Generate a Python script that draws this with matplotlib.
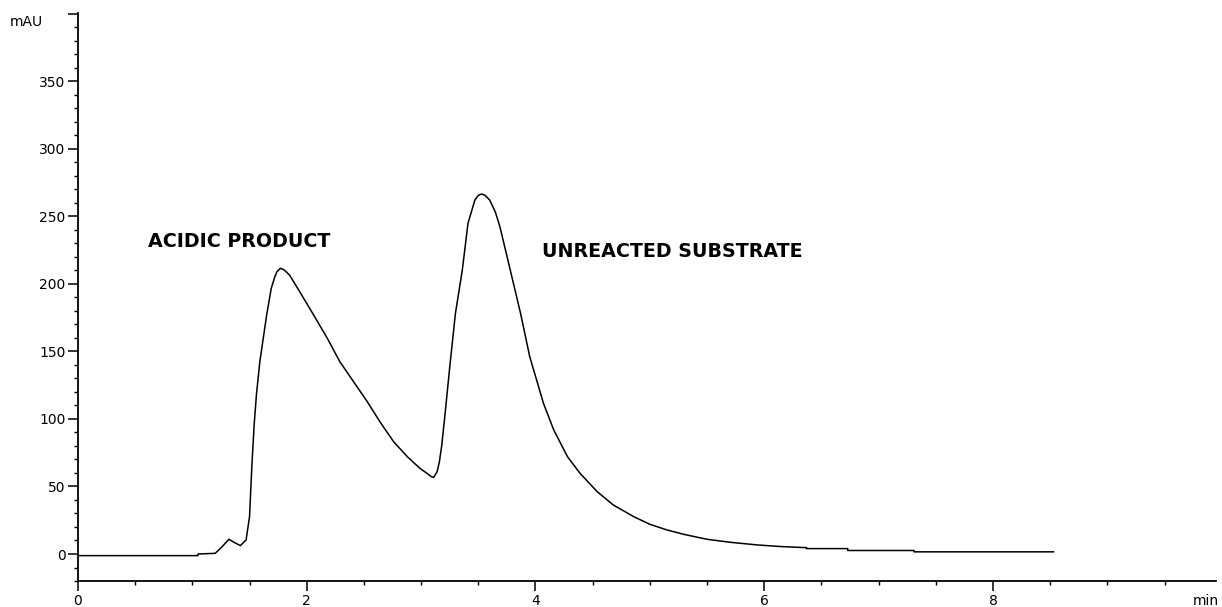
import matplotlib
matplotlib.use('Agg')
import matplotlib.pyplot as plt
from matplotlib.ticker import MultipleLocator

# retention time (min) and absorbance (mAU)
time_min = [0.00, 1.05, 1.05, 1.20, 1.26, 1.32, 1.37, 1.42, 1.47, 1.50,
            1.52, 1.54, 1.56, 1.59, 1.62, 1.65, 1.69, 1.72, 1.74,
            1.77, 1.80, 1.85, 1.94, 2.06, 2.18, 2.29, 2.41, 2.53, 2.64,
            2.76, 2.88, 2.99, 3.05, 3.09, 3.11, 3.14, 3.16, 3.18, 3.21,
            3.25, 3.30, 3.36, 3.41, 3.47, 3.50, 3.53, 3.56, 3.60, 3.65,
            3.69, 3.78, 3.87, 3.95, 4.01, 4.07, 4.16, 4.28, 4.39, 4.54,
            4.68, 4.86, 5.00, 5.15, 5.30, 5.50, 5.70, 5.94, 6.15, 6.37,
            6.37, 6.73, 6.73, 7.31, 7.31, 8.53]
mau = [-1.2, -1.2, 0.0, 0.5, 5.4, 10.9, 8.4, 6.2, 10.4, 27.6,
       64.6, 95.0, 117.7, 142.3, 159.7, 177.0, 196.7, 205.0, 209.0,
       211.5, 210.5, 206.5, 194.0, 177.0, 159.7, 142.3, 127.5, 112.7, 97.9,
       83.1, 72.0, 63.4, 59.8, 57.2, 56.8, 60.9, 68.3, 80.0, 104.0,
       138.0, 178.0, 210.0, 244.8, 262.0, 265.5, 266.5, 265.5, 262.0, 253.0,
       242.0, 210.0, 178.0, 146.0, 128.8, 111.5, 91.8, 72.0, 59.7, 46.1,
       36.3, 27.6, 22.0, 17.8, 14.5, 10.9, 8.7, 6.7, 5.5, 4.7,
       4.0, 4.0, 2.6, 2.6, 1.6, 1.6]

peak_labels = ['ACIDIC PRODUCT', 'UNREACTED SUBSTRATE']
label_x = [0.61, 4.06]
label_y = [231, 224]

fig = plt.figure(figsize=(12.22, 6.07), dpi=100)
ax = fig.add_axes([0.0638, 0.0428, 0.9313, 0.9358])

ax.plot(time_min, mau, color='black', linewidth=1.1)

for txt, lx, ly in zip(peak_labels, label_x, label_y):
    ax.text(lx, ly, txt, fontsize=13.7, fontweight='bold', family='DejaVu Sans',
            va='center', ha='left')

ax.set_xlim(0, 9.95)
ax.set_ylim(-20, 400.5)

ax.xaxis.set_major_locator(MultipleLocator(2))
ax.xaxis.set_minor_locator(MultipleLocator(0.5))
ax.yaxis.set_major_locator(MultipleLocator(50))
ax.yaxis.set_minor_locator(MultipleLocator(10))

ax.spines['top'].set_visible(False)
ax.spines['right'].set_visible(False)
ax.spines['left'].set_linewidth(1.3)
ax.spines['bottom'].set_linewidth(1.3)

ax.tick_params(which='major', direction='out', length=7, width=1.1,
               labelsize=10, pad=2)
ax.tick_params(which='minor', direction='out', length=3, width=1.0)

ax.set_xticks([0, 2, 4, 6, 8])
ax.set_yticks([0, 50, 100, 150, 200, 250, 300, 350, 400])
ax.set_yticklabels(['0', '50', '100', '150', '200', '250', '300', '350', ''])

fig.text(10 / 1222, 1 - 22 / 607, 'mAU', fontsize=10, ha='left', va='center')
fig.text(1193 / 1222, 1 - 601 / 607, 'min', fontsize=10, ha='left', va='center')

fig.savefig('out.png', dpi=100, facecolor='white')
